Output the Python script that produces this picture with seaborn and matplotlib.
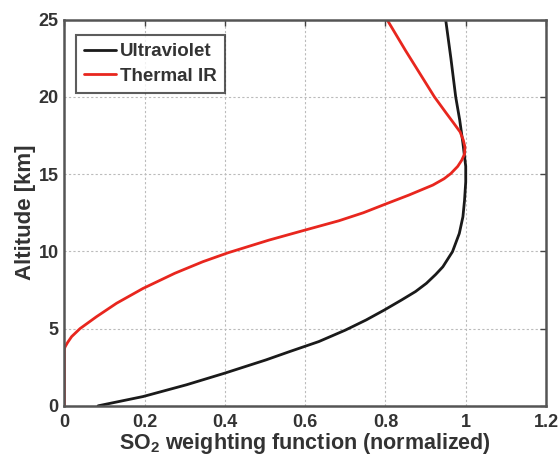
import matplotlib
matplotlib.use("Agg")
import matplotlib.pyplot as plt
import seaborn as sns
import pandas as pd

# Ultraviolet weighting function (black)
alt_uv = [0, 0.6, 1.36, 2.11, 2.97, 3.5, 4.16, 4.9, 5.56, 6.2, 6.85, 7.4, 7.93, 8.5, 9.0, 9.98,
          11.16, 12.24, 13.3, 14.5, 15.5, 17.0, 18.5, 20.0, 22.5, 25.0]
uv = [0.084, 0.196, 0.304, 0.399, 0.502, 0.56, 0.634, 0.7, 0.752, 0.797, 0.84, 0.875, 0.902, 0.925, 0.943, 0.967,
      0.984, 0.993, 0.997, 1.0, 1.0, 0.993, 0.985, 0.975, 0.963, 0.95]

# Thermal IR weighting function (red)
alt_ir = [0, 3.7, 3.83, 4.1, 4.48, 5.0, 5.77, 6.64, 7.6, 8.58, 9.33, 9.91, 10.73, 11.38,
          11.98, 12.5, 13.06, 13.64, 14.29, 14.7, 15.04, 15.5, 15.9, 16.3, 16.76, 17.2,
          17.73, 18.3, 19.0, 20.0, 21.0, 22.0, 23.0, 24.0, 25.0]
ir = [0, 0, 0.002, 0.008, 0.018, 0.039, 0.080, 0.130, 0.196, 0.275, 0.345, 0.408, 0.51, 0.6,
      0.684, 0.745, 0.8, 0.858, 0.918, 0.946, 0.963, 0.98, 0.99, 0.997, 0.998, 0.994,
      0.986, 0.97, 0.95, 0.922, 0.898, 0.874, 0.85, 0.827, 0.804]

series_names = ["Ultraviolet", "Thermal IR"]
series_colors = ["#1a1a1a", "#e8261e"]

x_ticks = [0, 0.2, 0.4, 0.6, 0.8, 1, 1.2]
x_tick_labels = ["0", "0.2", "0.4", "0.6", "0.8", "1", "1.2"]
y_ticks = [0, 5, 10, 15, 20, 25]

df = pd.concat([
    pd.DataFrame({"alt": alt_uv, "w": uv, "series": series_names[0]}),
    pd.DataFrame({"alt": alt_ir, "w": ir, "series": series_names[1]}),
], ignore_index=True)

sns.set_style("white")
plt.rcParams["font.family"] = ["Liberation Sans", "DejaVu Sans"]
plt.rcParams["font.weight"] = "bold"
plt.rcParams["mathtext.fontset"] = "custom"
plt.rcParams["mathtext.bf"] = "Liberation Sans:bold"
plt.rcParams["mathtext.rm"] = "Liberation Sans:bold"
plt.rcParams["mathtext.default"] = "bf"

fig = plt.figure(figsize=(5.6, 4.57), dpi=100)
ax = fig.add_axes([0.115, 0.112, 0.86, 0.845])

sns.lineplot(data=df, x="w", y="alt", hue="series", hue_order=series_names,
             palette=series_colors, orient="y", sort=True, linewidth=2.0,
             estimator=None, ax=ax)

ax.set_xlim(0, 1.2)
ax.set_ylim(0, 25)
ax.set_xticks(x_ticks)
ax.set_xticklabels(x_tick_labels)
ax.set_yticks(y_ticks)
ax.grid(True, linestyle=(0, (2, 2)), color="#bbbbbb", linewidth=0.8)
ax.tick_params(direction="in", top=True, right=True, length=4, width=1,
               colors="#444444", labelsize=13)
ax.tick_params(axis="x", pad=6)
ax.tick_params(axis="y", pad=4)
for lab in ax.get_xticklabels() + ax.get_yticklabels():
    lab.set_fontweight("bold")
    lab.set_color("#333333")
for s in ax.spines.values():
    s.set_color("#555555")
    s.set_linewidth(1.8)

ax.set_xlabel("SO$_2$ weighting function (normalized)", fontsize=15.5,
              fontweight="bold", color="#333333", labelpad=0)
ax.set_ylabel("Altitude [km]", fontsize=16, fontweight="bold", color="#333333", labelpad=2)

leg = ax.legend(loc="upper left", bbox_to_anchor=(0.0, 0.99), fontsize=13.5,
                frameon=True, fancybox=False, edgecolor="#333333",
                handlelength=1.7, handletextpad=0.2, borderpad=0.45,
                labelspacing=0.4, borderaxespad=0.6)
leg.get_frame().set_linewidth(1.5)
for t in leg.get_texts():
    t.set_fontweight("bold")
    t.set_color("#333333")
for l in leg.get_lines():
    l.set_linewidth(2.0)

fig.savefig("out.png", dpi=100)
